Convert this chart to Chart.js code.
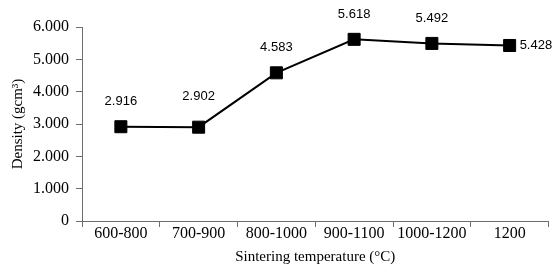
<!DOCTYPE html>
<html>
<head>
<meta charset="utf-8">
<script src="https://cdn.jsdelivr.net/npm/chart.js@4"></script>
<style>
  html, body { margin: 0; padding: 0; background: #fff; }
  #wrap { width: 558px; height: 266px; position: relative; }
</style>
</head>
<body>
<div id="wrap"><canvas id="chart"></canvas></div>
<script>
  var CATEGORIES = ['600-800', '700-900', '800-1000', '900-1100', '1000-1200', '1200'];
  var DENSITY = [2.916, 2.902, 4.583, 5.618, 5.492, 5.428];
  var Y_TICKS = [0, 1, 2, 3, 4, 5, 6];

  var serif = "'Liberation Serif', 'Times New Roman', serif";
  var sans = "'Liberation Sans', Arial, sans-serif";
  var axisGrey = '#6e6e6e';

  // value labels: above each point, last one to the right
  var valueLabels = {
    id: 'valueLabels',
    afterDatasetsDraw: function (chart) {
      var ctx = chart.ctx;
      var meta = chart.getDatasetMeta(0);
      ctx.save();
      ctx.font = '13px ' + sans;
      ctx.fillStyle = '#000';
      ctx.textBaseline = 'middle';
      meta.data.forEach(function (pt, i) {
        var txt = DENSITY[i].toFixed(3);
        if (i === meta.data.length - 1) {
          ctx.textAlign = 'left';
          ctx.fillText(txt, pt.x + 10, pt.y);
        } else {
          ctx.textAlign = 'center';
          ctx.fillText(txt, pt.x, pt.y - (i === 1 ? 31 : 25));
        }
      });
      ctx.restore();
    }
  };

  new Chart(document.getElementById('chart'), {
    type: 'line',
    data: {
      labels: CATEGORIES,
      datasets: [{
        data: DENSITY,
        borderColor: '#000',
        backgroundColor: '#000',
        borderWidth: 2,
        pointStyle: 'rect',
        pointRadius: 8.5,
        pointBorderWidth: 1,
        tension: 0
      }]
    },
    options: {
      responsive: true,
      maintainAspectRatio: false,
      animation: false,
      layout: { padding: { top: 27, right: 9, left: 0, bottom: 0 } },
      plugins: { legend: { display: false }, tooltip: { enabled: false } },
      scales: {
        x: {
          offset: true,
          grid: { display: true, drawOnChartArea: false, offset: true, color: axisGrey, tickLength: 6 },
          border: { color: axisGrey, width: 1 },
          ticks: { color: '#000', font: { family: serif, size: 16 }, maxRotation: 0, padding: -3 },
          title: { display: true, text: 'Sintering temperature (\u00B0C)', color: '#000', font: { family: serif, size: 15 }, padding: { top: 0, bottom: 0 } },
          afterFit: function (s) { s.height = 45; }
        },
        y: {
          min: 0,
          max: 6,
          afterBuildTicks: function (s) { s.ticks = Y_TICKS.map(function (v) { return { value: v }; }); },
          grid: { display: true, drawOnChartArea: false, color: axisGrey, tickLength: 6 },
          border: { color: axisGrey, width: 1 },
          ticks: {
            color: '#000',
            font: { family: serif, size: 16 },
            padding: 7,
            callback: function (v) { return v === 0 ? '0' : v.toFixed(3); }
          },
          title: { display: true, text: 'Density (gcm\u00B3)', color: '#000', font: { family: serif, size: 15 }, padding: { top: 9, bottom: 0 } },
          afterFit: function (s) { s.width = 82; }
        }
      }
    },
    plugins: [valueLabels]
  });
</script>
</body>
</html>
